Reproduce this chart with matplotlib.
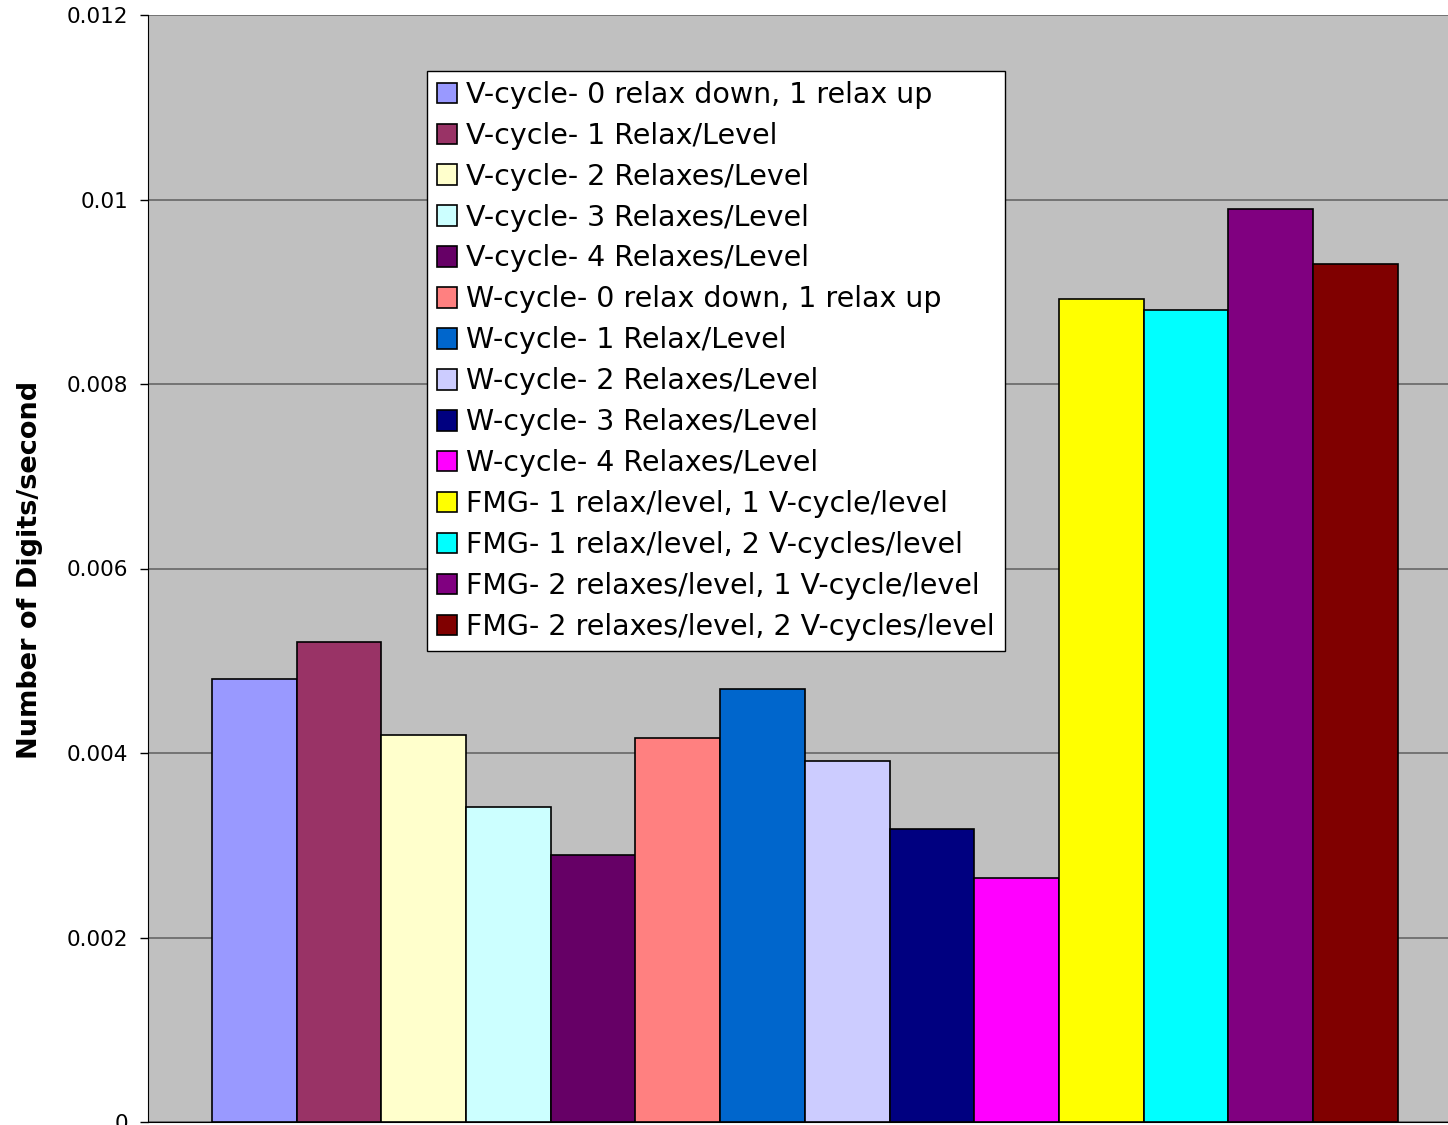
import numpy as np
import matplotlib
matplotlib.use("Agg")
import matplotlib.pyplot as plt
from matplotlib.ticker import FixedLocator, FuncFormatter

plt.rcParams['font.family'] = ['DejaVu Sans']

series_names = [
    "V-cycle- 0 relax down, 1 relax up",
    "V-cycle- 1 Relax/Level",
    "V-cycle- 2 Relaxes/Level",
    "V-cycle- 3 Relaxes/Level",
    "V-cycle- 4 Relaxes/Level",
    "W-cycle- 0 relax down, 1 relax up",
    "W-cycle- 1 Relax/Level",
    "W-cycle- 2 Relaxes/Level",
    "W-cycle- 3 Relaxes/Level",
    "W-cycle- 4 Relaxes/Level",
    "FMG- 1 relax/level, 1 V-cycle/level",
    "FMG- 1 relax/level, 2 V-cycles/level",
    "FMG- 2 relaxes/level, 1 V-cycle/level",
    "FMG- 2 relaxes/level, 2 V-cycles/level",
]
values = [0.0048, 0.0052, 0.0042, 0.00341, 0.00289,
          0.00416, 0.00469, 0.00391, 0.00318, 0.00264,
          0.00892, 0.0088, 0.0099, 0.0093]
colors = ["#9999FF", "#993366", "#FFFFCC", "#CCFFFF", "#660066",
          "#FF8080", "#0066CC", "#CCCCFF", "#000080", "#FF00FF",
          "#FFFF00", "#00FFFF", "#800080", "#800000"]
y_ticks = [0, 0.002, 0.004, 0.006, 0.008, 0.01, 0.012]

W, H = 1448, 1125
fig = plt.figure(figsize=(W / 100, H / 100), dpi=100)
ax = fig.add_axes([148 / W, 3 / H, 1314 / W, 1107 / H])
ax.set_facecolor("#C0C0C0")

n = len(values)
offsets = np.arange(n) - (n - 1) / 2
handles = []
for off, v, c, name in zip(offsets, values, colors, series_names):
    b = ax.bar(off, v, width=1.0, color=c, edgecolor="black", linewidth=1.2,
               label=name, zorder=3)
    handles.append(b)

half = n / 2 + 64 / 84.7
ax.set_xlim(-half, -half + 1314 / 84.7)
ax.set_ylim(0, 0.012)
ax.yaxis.set_major_locator(FixedLocator(y_ticks))
ax.yaxis.set_major_formatter(FuncFormatter(lambda v, p: f"{v:g}"))
ax.set_xticks([])
ax.tick_params(axis="y", labelsize=15.5, length=5.8, width=1, direction="out", pad=8.6)
ax.grid(axis="y", color="#666666", linewidth=1.2, zorder=1)
for s in ("top", "right"):
    ax.spines[s].set_visible(False)
ax.spines["left"].set_color("black")
ax.spines["bottom"].set_color("black")

fig.text(30 / W, 1 - 570 / H, "Number of Digits/second", rotation=90,
         ha="center", va="center", fontsize=19.5, fontweight="bold")

leg = ax.legend(handles=handles, loc="upper left",
                bbox_to_anchor=(427 / W, 1 - 71 / H), bbox_transform=fig.transFigure,
                fontsize=20.5, frameon=True, fancybox=False, framealpha=1,
                edgecolor="black", borderaxespad=0, handlelength=0.72,
                handleheight=0.72, handletextpad=0.32, labelspacing=0.455,
                borderpad=0.34)
leg.get_frame().set_linewidth(1.0)
leg.set_zorder(5)

fig.savefig("out.png", dpi=100)
